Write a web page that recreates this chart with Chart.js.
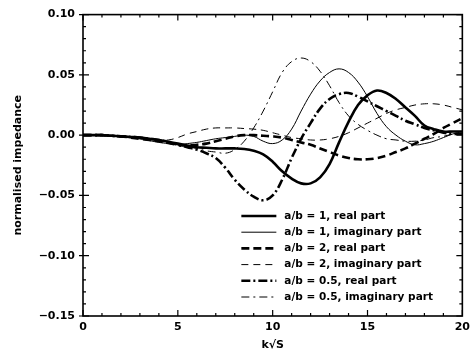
<!DOCTYPE html>
<html>
<head>
<meta charset="utf-8">
<script src="https://cdn.jsdelivr.net/npm/chart.js@4/dist/chart.umd.min.js"></script>
<style>
  html, body { margin: 0; padding: 0; background: #fff; }
  #wrap { width: 475px; height: 353px; }
</style>
</head>
<body>
<div id="wrap"><canvas id="impChart" width="475" height="353"></canvas></div>
<script>
// k*sqrt(S) sample points, shared by every curve
const kS = [0, 0.5, 1, 1.5, 2, 2.5, 3, 3.5, 4, 4.5, 5, 5.5, 6, 6.5, 7, 7.5, 8, 8.5, 9, 9.5,
            10, 10.5, 11, 11.5, 12, 12.5, 13, 13.5, 14, 14.5, 15, 15.5, 16, 16.5, 17, 17.5,
            18, 18.5, 19, 19.5, 20];

// a/b = 1
const ab1Real = [0, 0, 0, -0.0005, -0.001, -0.0015, -0.002, -0.003, -0.004, -0.0055, -0.007,
                 -0.0085, -0.010, -0.0105, -0.011, -0.011, -0.011, -0.0115, -0.013, -0.016,
                 -0.022, -0.030, -0.036, -0.040, -0.040, -0.035, -0.024, -0.006, 0.011, 0.025,
                 0.033, 0.037, 0.035, 0.030, 0.023, 0.016, 0.008, 0.005, 0.003, 0.003, 0.003];
const ab1Imag = [0, 0, 0, -0.0005, -0.001, -0.002, -0.003, -0.0045, -0.006, -0.007, -0.008,
                 -0.007, -0.006, -0.0045, -0.003, -0.002, -0.001, 0.000, -0.001, -0.005,
                 -0.007, -0.004, 0.005, 0.020, 0.034, 0.045, 0.052, 0.055, 0.052, 0.044,
                 0.032, 0.018, 0.007, 0.000, -0.005, -0.008, -0.007, -0.005, -0.002, 0.001, 0.003];
// a/b = 2
const ab2Real = [0, 0, 0, -0.0005, -0.001, -0.002, -0.003, -0.004, -0.005, -0.0065, -0.008,
                 -0.0085, -0.008, -0.007, -0.005, -0.003, -0.001, 0.000, 0.000, -0.0005,
                 -0.001, -0.002, -0.004, -0.006, -0.008, -0.011, -0.014, -0.017, -0.019, -0.020,
                 -0.020, -0.019, -0.017, -0.014, -0.011, -0.007, -0.003, 0.001, 0.006, 0.010, 0.014];
const ab2Imag = [0, 0, 0, -0.0005, -0.001, -0.0015, -0.002, -0.003, -0.004, -0.004, -0.002,
                 0.001, 0.003, 0.005, 0.006, 0.006, 0.006, 0.0055, 0.005, 0.004,
                 0.002, 0.000, -0.002, -0.003, -0.004, -0.004, -0.003, -0.001, 0.002, 0.006,
                 0.010, 0.014, 0.018, 0.021, 0.023, 0.025, 0.026, 0.026, 0.025, 0.023, 0.021];
// a/b = 0.5
const ab05Real = [0, 0, 0, -0.0005, -0.001, -0.0015, -0.002, -0.003, -0.004, -0.006, -0.008,
                  -0.010, -0.012, -0.015, -0.019, -0.027, -0.037, -0.045, -0.051, -0.054,
                  -0.050, -0.037, -0.019, -0.003, 0.010, 0.022, 0.030, 0.034, 0.035, 0.032,
                  0.028, 0.024, 0.020, 0.016, 0.012, 0.009, 0.006, 0.004, 0.002, 0.001, 0.001];
const ab05Imag = [0, 0, 0, -0.0005, -0.001, -0.002, -0.003, -0.004, -0.005, -0.0065, -0.008,
                  -0.0095, -0.011, -0.013, -0.014, -0.015, -0.012, -0.005, 0.006, 0.020,
                  0.036, 0.052, 0.061, 0.064, 0.061, 0.053, 0.041, 0.027, 0.016, 0.009,
                  0.004, 0.000, -0.003, -0.004, -0.005, -0.005, -0.004, -0.002, -0.001, 0.001, 0.002];

const xTicks = [0, 5, 10, 15, 20];
const yTicks = [-0.15, -0.10, -0.05, 0.00, 0.05, 0.10];

const seriesLabels = [
    'a/b = 1, real part',
    'a/b = 1, imaginary part',
    'a/b = 2, real part',
    'a/b = 2, imaginary part',
    'a/b = 0.5, real part',
    'a/b = 0.5, imaginary part'
];
const seriesValues = [ab1Real, ab1Imag, ab2Real, ab2Imag, ab05Real, ab05Imag];
const seriesWidth = [2.6, 1, 2.6, 1, 2.6, 1];
const seriesDash = [[], [], [8, 4], [7, 5], [9, 3, 2, 3], [8, 4, 2, 4]];

Chart.defaults.font.family = "'DejaVu Sans', sans-serif";
Chart.defaults.font.size = 11;
Chart.defaults.font.weight = 'bold';
Chart.defaults.color = '#000';

function toPoints(values) {
    return values.map((v, i) => ({x: kS[i], y: v}));
}

function fmtY(v) {
    const s = Math.abs(v).toFixed(2);
    return v < -1e-9 ? '\u2212' + s : s;
}

// closed frame with inward ticks on all four sides
const frameTicks = {
    id: 'frameTicks',
    afterDraw(chart) {
        const {ctx, chartArea: a, scales: {x, y}} = chart;
        ctx.save();
        ctx.strokeStyle = '#000';
        ctx.lineWidth = 1.6;
        ctx.setLineDash([]);
        ctx.strokeRect(a.left, a.top, a.right - a.left, a.bottom - a.top);
        ctx.lineWidth = 1.2;
        ctx.beginPath();
        for (let v = 0; v <= 20; v++) {
            const px = x.getPixelForValue(v);
            const len = v % 5 === 0 ? 6 : 3;
            ctx.moveTo(px, a.bottom); ctx.lineTo(px, a.bottom - len);
            ctx.moveTo(px, a.top); ctx.lineTo(px, a.top + len);
        }
        for (let i = -15; i <= 10; i++) {
            const py = y.getPixelForValue(i / 100);
            const major = i % 5 === 0;
            const len = major ? 6 : 3;
            ctx.moveTo(a.left - (major ? 4 : 0), py); ctx.lineTo(a.left + len, py);
            ctx.moveTo(a.right, py); ctx.lineTo(a.right - len, py);
        }
        ctx.stroke();
        ctx.restore();
    }
};

// line-style legend sitting inside the lower right of the plot
const styleLegend = {
    id: 'styleLegend',
    afterDraw(chart) {
        const {ctx, chartArea: a} = chart;
        const x0 = a.right - 221;
        const y0 = a.bottom - 100;
        const rowH = 16.2;
        ctx.save();
        ctx.font = "bold 10.5px 'DejaVu Sans', sans-serif";
        ctx.fillStyle = '#000';
        ctx.textBaseline = 'middle';
        chart.data.datasets.forEach((ds, i) => {
            const yy = y0 + i * rowH;
            ctx.strokeStyle = '#000';
            ctx.lineWidth = ds.borderWidth;
            ctx.setLineDash(ds.borderDash);
            ctx.beginPath();
            ctx.moveTo(x0, yy);
            ctx.lineTo(x0 + 35, yy);
            ctx.stroke();
            ctx.setLineDash([]);
            ctx.fillText(ds.label, x0 + 43, yy);
        });
        ctx.restore();
    }
};

function setupChart() {
    const ctx = document.getElementById('impChart');
    const datasets = seriesLabels.map((label, i) => ({
        label: label,
        data: toPoints(seriesValues[i]),
        borderColor: '#000',
        borderWidth: seriesWidth[i],
        borderDash: seriesDash[i],
        pointRadius: 0,
        tension: 0.4,
        fill: false
    }));

    return new Chart(ctx, {
        type: 'line',
        data: {datasets: datasets},
        options: {
            responsive: false,
            animation: false,
            devicePixelRatio: 1,
            layout: {padding: {top: 12, right: 11, left: 0, bottom: 0}},
            plugins: {
                legend: {display: false},
                tooltip: {enabled: false}
            },
            scales: {
                x: {
                    type: 'linear',
                    min: 0,
                    max: 20,
                    afterFit: (s) => { s.height = 37; },
                    afterBuildTicks: (s) => { s.ticks = xTicks.map(v => ({value: v})); },
                    grid: {display: false, drawTicks: false},
                    border: {display: false},
                    ticks: {padding: 5, maxRotation: 0, font: {size: 11, weight: 'bold'}},
                    title: {display: true, text: 'k\u221AS', padding: {top: 0, bottom: 1},
                            font: {size: 11, weight: 'bold'}}
                },
                y: {
                    type: 'linear',
                    min: -0.15,
                    max: 0.10,
                    afterFit: (s) => { s.width = 83; },
                    afterBuildTicks: (s) => { s.ticks = yTicks.map(v => ({value: v})); },
                    grid: {display: false, drawTicks: false},
                    border: {display: false},
                    ticks: {padding: 8, callback: (v) => fmtY(v), font: {size: 11, weight: 'bold'}},
                    title: {display: true, text: 'normalised impedance', padding: {top: 12, bottom: 0},
                            font: {size: 11, weight: 'bold'}}
                }
            }
        },
        plugins: [frameTicks, styleLegend]
    });
}

function main() {
    setupChart();
}

main()
</script>
</body>
</html>
